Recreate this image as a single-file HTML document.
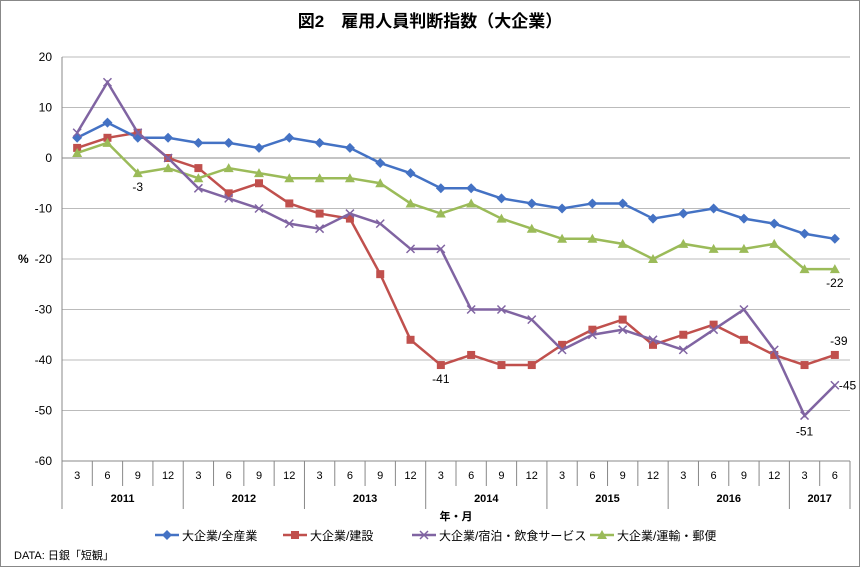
<!DOCTYPE html>
<html><head><meta charset="utf-8">
<style>
body{margin:0;background:#fff;}
svg text{font-family:"Liberation Sans","Noto Sans CJK JP",sans-serif;}
</style></head>
<body>
<svg width="860" height="567" viewBox="0 0 860 567" xmlns="http://www.w3.org/2000/svg">
<rect x="0.5" y="0.5" width="859" height="566" fill="#fff" stroke="#888"/>
<text x="430" y="27" text-anchor="middle" font-size="17" font-weight="bold">図2　雇用人員判断指数（大企業）</text>
<g id="grid"></g><g id="axes"></g><g id="series"></g><g id="labels"></g>
<text x="18" y="263" font-size="12" font-weight="bold">%</text>
<text x="456" y="520" text-anchor="middle" font-size="11" font-weight="bold">年・月</text>
<g id="legend"></g>
<text x="14" y="559" font-size="11">DATA: 日銀「短観」</text>
</svg>
<script>
const months=[3,6,9,12,3,6,9,12,3,6,9,12,3,6,9,12,3,6,9,12,3,6,9,12,3,6];
const years=["2011","2012","2013","2014","2015","2016","2017"];
const yTicks=[20,10,0,-10,-20,-30,-40,-50,-60];
const allIndustry=[4,7,4,4,3,3,2,4,3,2,-1,-3,-6,-6,-8,-9,-10,-9,-9,-12,-11,-10,-12,-13,-15,-16];
const construction=[2,4,5,0,-2,-7,-5,-9,-11,-12,-23,-36,-41,-39,-41,-41,-37,-34,-32,-37,-35,-33,-36,-39,-41,-39];
const hospitality=[5,15,5,0,-6,-8,-10,-13,-14,-11,-13,-18,-18,-30,-30,-32,-38,-35,-34,-36,-38,-34,-30,-38,-51,-45];
const transport=[1,3,-3,-2,-4,-2,-3,-4,-4,-4,-5,-9,-11,-9,-12,-14,-16,-16,-17,-20,-17,-18,-18,-17,-22,-22];
const seriesNames=["大企業/全産業","大企業/建設","大企業/宿泊・飲食サービス","大企業/運輸・郵便"];

const NS="http://www.w3.org/2000/svg";
const L=62,R=850,T=57,B=461,ymax=20,ymin=-60;
const bw=(R-L)/months.length;
const x=i=>L+bw*(i+0.5);
const y=v=>T+(ymax-v)/(ymax-ymin)*(B-T);
function mk(tag,attrs,parent,txt){const e=document.createElementNS(NS,tag);for(const k in attrs)e.setAttribute(k,attrs[k]);if(txt!==undefined)e.textContent=txt;document.getElementById(parent).appendChild(e);return e;}

yTicks.forEach(v=>{
  const g=mk('line',{x1:L,x2:R,y1:y(v),y2:y(v),stroke:'#bbb','stroke-width':1},'grid');
  
  
  const t=mk('text',{x:L-10,y:y(v)+4,'text-anchor':'end','font-size':12},'axes',String(v));
  
  
});
mk('line',{x1:L,x2:L,y1:T,y2:B,stroke:'#888'},'axes');
const zl=mk('line',{x1:L,x2:R,y1:y(0),y2:y(0),stroke:'#888'},'axes');


// x axis bottom line and separators
mk('line',{x1:L,x2:R,y1:B,y2:B,stroke:'#888'},'axes');
for(let i=0;i<=months.length;i++){
  const xx=L+bw*i;
  const yearEdge=(i%4===0)||i===months.length;
  const s=mk('line',{x1:xx,x2:xx,y1:B,y2:yearEdge?509:486,stroke:'#888'},'axes');
  
  
}
months.forEach((m,i)=>{
  const t=mk('text',{x:x(i),y:479,'text-anchor':'middle','font-size':11},'axes',String(m));
  
  
});
years.forEach((yr,j)=>{
  const s=j*4,e=Math.min(s+4,months.length);
  const t=mk('text',{x:(L+bw*s+L+bw*e)/2,y:502,'text-anchor':'middle','font-size':11,'font-weight':'bold'},'axes',yr);
  
  
});

const cfg=[
 {d:allIndustry,c:'#4472C4',m:'diamond',n:'all-industry'},
 {d:construction,c:'#C0504D',m:'square',n:'construction'},
 {d:hospitality,c:'#8064A2',m:'x',n:'hospitality'},
 {d:transport,c:'#9BBB59',m:'triangle',n:'transport'}];
function marker(type,cx,cy,c,parent,name){
  let e;
  if(type==='diamond')e=mk('path',{d:`M${cx} ${cy-5}L${cx+5} ${cy}L${cx} ${cy+5}L${cx-5} ${cy}Z`,fill:c},parent);
  else if(type==='square')e=mk('rect',{x:cx-4,y:cy-4,width:8,height:8,fill:c},parent);
  else if(type==='triangle')e=mk('path',{d:`M${cx} ${cy-5}L${cx+5} ${cy+4}L${cx-5} ${cy+4}Z`,fill:c},parent);
  else e=mk('path',{d:`M${cx-4} ${cy-4}L${cx+4} ${cy+4}M${cx+4} ${cy-4}L${cx-4} ${cy+4}`,stroke:c,'stroke-width':1.5,fill:'none'},parent);
  
  
}
[1,0,3,2].forEach(k=>{
  const s=cfg[k];
  const p=mk('polyline',{points:s.d.map((v,i)=>x(i)+','+y(v)).join(' '),fill:'none',stroke:s.c,'stroke-width':2.5},'series');
  
  
  s.d.forEach((v,i)=>marker(s.m,x(i),y(v),s.c,'series',s.n+'-point'));
});
const callouts=[
 {d:transport,i:2,dx:0,dy:18,a:'middle'},
 {d:construction,i:12,dx:0,dy:18,a:'middle'},
 {d:hospitality,i:24,dx:0,dy:20,a:'middle'},
 {d:hospitality,i:25,dx:4,dy:4,a:'start'},
 {d:construction,i:25,dx:4,dy:-10,a:'middle'},
 {d:transport,i:25,dx:0,dy:18,a:'middle'}];
callouts.forEach(o=>{
  const t=mk('text',{x:x(o.i)+o.dx,y:y(o.d[o.i])+o.dy,'text-anchor':o.a,'font-size':12},'labels',String(o.d[o.i]));
  
  
});
const lx=[155,283,412,590];
cfg.forEach((s,k)=>{
  const ln=mk('line',{x1:lx[k],x2:lx[k]+24,y1:535,y2:535,stroke:s.c,'stroke-width':2.5},'legend');
  
  
  marker(s.m,lx[k]+12,535,s.c,'legend','legend-marker');
  const t=mk('text',{x:lx[k]+27,y:540,'font-size':12},'legend',seriesNames[k]);
  
  
});
</script>
</body></html>
